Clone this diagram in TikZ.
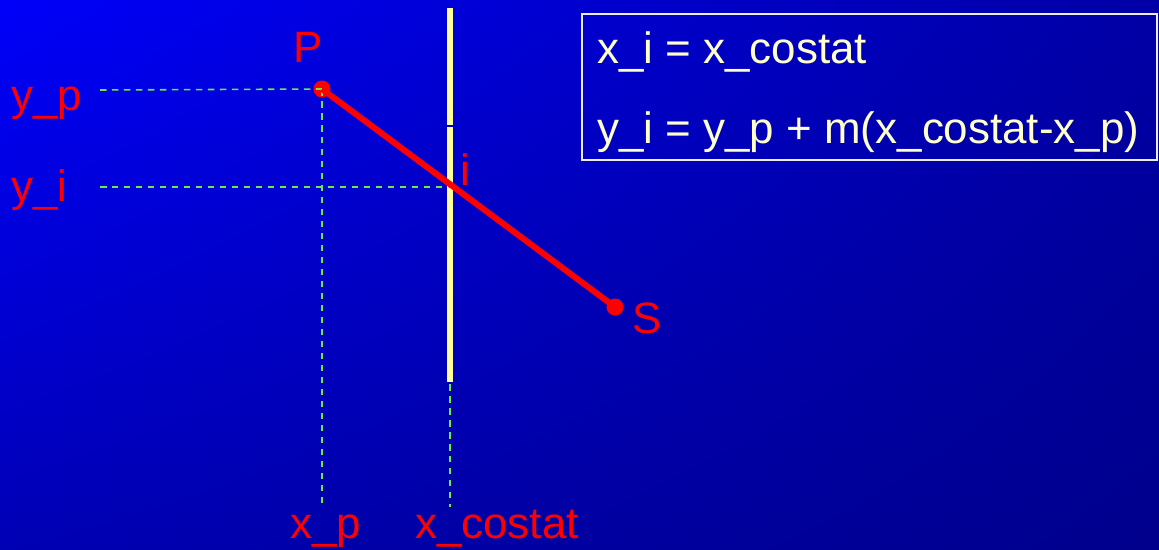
\documentclass[tikz,border=0pt]{standalone}
\usepackage{fontspec}
\setmainfont{Liberation Sans}
\usepackage{tikz}
\usetikzlibrary{calc,positioning,shadings}
\definecolor{bg-ul}{RGB}{0,0,250}
\definecolor{bg-ur}{RGB}{0,0,165}
\definecolor{bg-ll}{RGB}{0,0,180}
\definecolor{bg-lr}{RGB}{0,0,140}
\definecolor{wall-yellow}{HTML}{FFFF99}
\definecolor{guide-green}{HTML}{66EE44}
\definecolor{eq-text}{HTML}{FFFFCC}

\begin{document}
\begin{tikzpicture}[x=0.02cm, y=-0.02cm,
    lbl/.style={text=red, font=\fontsize{25}{30}\selectfont, inner sep=0pt, anchor=base},
    eq/.style={text=eq-text, font=\fontsize{25}{30}\selectfont, inner sep=0pt, anchor=base west},
    dot/.style={circle, fill=red, inner sep=0pt, minimum size=0.34cm},
    guide/.style={guide-green, dash pattern=on 0.13cm off 0.11cm, line width=0.9pt},
    wallbar/.style={fill=wall-yellow, draw=none}]
    % background
    \shade[upper left=bg-ul, upper right=bg-ur, lower left=bg-ll, lower right=bg-lr]
        (0,0) rectangle (1159,549);
    \useasboundingbox (0,0) rectangle (1159,549);

    % wall
    \fill[wallbar] (447,8) rectangle (453,125);
    \fill[wallbar] (447,127) rectangle (453,382);

    % points
    \node[dot] (P) at (322,89) {};
    \node[dot] (S) at (615,307) {};
    \coordinate (i) at (450,187);
    \coordinate (wallfoot) at (450,384);

    % labels
    \node[lbl] (Plbl) at (308,62) {P};
    \node[lbl] (Slbl) at (647,333) {S};
    \node[lbl] (ilbl) at (465,185) {i};
    \node[lbl, anchor=base west] (yp) at (11,110) {y\_p};
    \node[lbl, anchor=base west] (yi) at (11,201) {y\_i};
    \node[lbl] (xp) at (326,538) {x\_p};
    \node[lbl] (xc) at (497,538) {x\_costat};

    % guide lines
    \coordinate (ypstart) at (100,90);
    \coordinate (yistart) at (100,187);
    \coordinate (xpend) at (322,504);
    \coordinate (xcend) at (450,507);
    \draw[guide] (ypstart) -- (P.center);
    \draw[guide] (yistart) -- (i);
    \draw[guide] (P.center) -- (xpend);
    \draw[guide] (wallfoot) -- (xcend);

    % segment P-S
    \draw[red, line width=0.12cm] (P.center) -- (S.center);

    % equations
    \draw[draw=white!85!gray, line width=0.8pt] (582,14) rectangle (1157,160);
    \node[eq] (eq1) at (597,63) {x\_i = x\_costat};
    \node[eq] (eq2) at (597,143) {y\_i = y\_p + m(x\_costat-x\_p)};
\end{tikzpicture}
\end{document}
